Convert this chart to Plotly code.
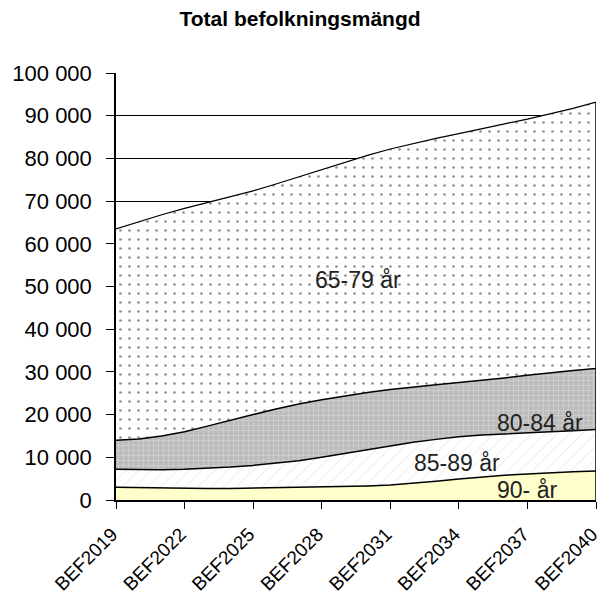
import plotly.graph_objects as go

years = [f"BEF{y}" for y in range(2019, 2041)]
tick_labels = ["BEF2019", "BEF2022", "BEF2025", "BEF2028", "BEF2031", "BEF2034", "BEF2037", "BEF2040"]

age_90 = [3000, 2900, 2800, 2700, 2700, 2700, 2800, 2800, 2900, 3000, 3100,
          3300, 3500, 3900, 4400, 4900, 5400, 5800, 6100, 6400, 6600, 6800]
age_85_89 = [4200, 4200, 4300, 4500, 4700, 5000, 5300, 5800, 6300, 7000, 7800,
             8500, 9200, 9600, 9800, 9900, 9800, 9700, 9700, 9600, 9600, 9700]
age_80_84 = [6800, 7200, 7900, 8800, 9900, 11000, 11900, 12700, 13300, 13500, 13500,
             13400, 13200, 13000, 12800, 12700, 12800, 13100, 13400, 13800, 14100, 14300]
age_65_79 = [49500, 50900, 51800, 52300, 52400, 52300, 52400, 52700, 53200, 53900, 54700,
             55500, 56300, 57000, 57700, 58300, 59000, 59500, 60000, 60600, 61400, 62400]

fig = go.Figure()

fig.add_trace(go.Scatter(
    x=years, y=age_90, stackgroup="s", mode="lines",
    line=dict(color="black", width=1.5),
    fillcolor="#ffffcc", name="90- år"))
fig.add_trace(go.Scatter(
    x=years, y=age_85_89, stackgroup="s", mode="lines",
    line=dict(color="black", width=1.5),
    fillpattern=dict(shape="/", bgcolor="white", fgcolor="#c8c8c8", size=9, solidity=0.1),
    name="85-89 år"))
fig.add_trace(go.Scatter(
    x=years, y=age_80_84, stackgroup="s", mode="lines",
    line=dict(color="black", width=1.5),
    fillpattern=dict(shape="+", bgcolor="#bcbcbc", fgcolor="#e4e4e4", size=5, solidity=0.3),
    name="80-84 år"))
fig.add_trace(go.Scatter(
    x=years, y=age_65_79, stackgroup="s", mode="lines",
    line=dict(color="black", width=1.2),
    fillpattern=dict(shape=".", bgcolor="white", fgcolor="#222222", size=9, solidity=0.07),
    name="65-79 år"))

total_last = age_90[-1] + age_85_89[-1] + age_80_84[-1] + age_65_79[-1]
fig.add_shape(type="line", xref="x", yref="y", x0=years[-1], x1=years[-1],
              y0=0, y1=total_last, line=dict(color="black", width=1.5))

label_font = dict(family="Liberation Sans, Arial", size=23, color="#222222")
annots = [
    ("65-79 år", 0.504, 0.515),
    ("80-84 år", 0.883, 0.181),
    ("85-89 år", 0.71, 0.087),
    ("90- år", 0.856, 0.023),
]
for txt, ax, ay in annots:
    fig.add_annotation(text=txt, x=ax, y=ay, xref="paper", yref="paper",
                       xanchor="center", yanchor="middle",
                       showarrow=False, font=label_font)

fig.update_layout(
    width=600, height=601,
    paper_bgcolor="white", plot_bgcolor="white",
    margin=dict(l=116, r=4, t=73, b=101),
    showlegend=False,
    separators=", ",
    title=dict(text="<b>Total befolkningsmängd</b>", x=0.5, xanchor="center",
               y=0.969, yanchor="middle",
               font=dict(family="Liberation Sans, Arial", size=21, color="black")),
    font=dict(family="Liberation Sans, Arial", size=20, color="black"),
)
fig.update_xaxes(
    type="category", range=[0, len(years) - 1], automargin=False,
    tickmode="array", tickvals=tick_labels, ticktext=tick_labels,
    tickangle=-45, ticks="outside", ticklen=7, tickcolor="black",
    ticklabelstandoff=7, ticklabelshift=-4,
    showline=True, linecolor="black", linewidth=1.5, showgrid=False,
    tickfont=dict(size=19),
)
fig.update_yaxes(
    range=[0, 100000], dtick=10000, tickformat=",d", automargin=False,
    ticks="outside", ticklen=8, tickcolor="black", ticklabelstandoff=10,
    showline=True, linecolor="black", linewidth=1.5,
    showgrid=True, gridcolor="black", gridwidth=1, zeroline=False,
    tickfont=dict(size=22),
)

fig.write_html(
    "out.html",
    config={"displayModeBar": False},
    post_script="document.body.style.margin='0';document.body.style.overflow='hidden';",
)
